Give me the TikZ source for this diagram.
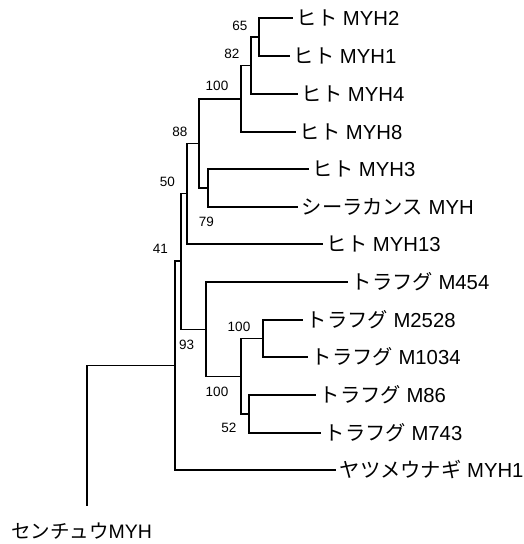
\documentclass[tikz,border=0pt]{standalone}
\usepackage{fontspec}
\setmainfont{Liberation Sans}
\newfontfamily\jp{Noto Sans CJK JP}
\newcommand{\J}[1]{{\jp #1}}
\begin{document}
\begin{tikzpicture}[x=1pt,y=-1pt,
  br/.style={line width=1.2pt, line cap=rect},
  leaf/.style={anchor=base west, inner sep=0pt, xshift=4.5pt, yshift=-7pt,
    font=\fontsize{20.3}{22}\selectfont},
  bs/.style={inner sep=0pt, font=\fontsize{13.5}{14}\selectfont}]
\useasboundingbox (0,0) rectangle (523,544);
% internal nodes
\coordinate (n65) at (259,37);
\coordinate (n82) at (251,65.5);
\coordinate (n100a) at (241,99);
\coordinate (n79) at (208,188);
\coordinate (n88) at (199,143.5);
\coordinate (n50) at (187,193.5);
\coordinate (n100b) at (263,338.5);
\coordinate (n52) at (249,414);
\coordinate (n100c) at (241,376.5);
\coordinate (n93) at (206,329.5);
\coordinate (n41) at (181,261);
\coordinate (root) at (175,365.5);
% leaf ends
\coordinate (l1) at (292,18);
\coordinate (l2) at (289,56);
\coordinate (l3) at (297,94);
\coordinate (l4) at (295,132);
\coordinate (l5) at (308,169);
\coordinate (l6) at (297,207);
\coordinate (l7) at (322,244);
\coordinate (l8) at (347,282);
\coordinate (l9) at (302,320);
\coordinate (l10) at (307,357);
\coordinate (l11) at (315,395);
\coordinate (l12) at (320,433);
\coordinate (l13) at (335,470);
\coordinate (l14) at (87,505);
% branches
\draw[br] (n65) |- (l1);
\draw[br] (n65) |- (l2);
\draw[br] (n82) |- (n65);
\draw[br] (n82) |- (l3);
\draw[br] (n100a) |- (n82);
\draw[br] (n100a) |- (l4);
\draw[br] (n88) |- (n100a);
\draw[br] (n79) |- (l5);
\draw[br] (n79) |- (l6);
\draw[br] (n88) |- (n79);
\draw[br] (n50) |- (n88);
\draw[br] (n50) |- (l7);
\draw[br] (n41) |- (n50);
\draw[br] (n100b) |- (l9);
\draw[br] (n100b) |- (l10);
\draw[br] (n52) |- (l11);
\draw[br] (n52) |- (l12);
\draw[br] (n100c) |- (n100b);
\draw[br] (n100c) |- (n52);
\draw[br] (n93) |- (l8);
\draw[br] (n93) |- (n100c);
\draw[br] (n41) |- (n93);
\draw[br] (root) |- (n41);
\draw[br] (root) |- (l13);
\draw[br] (root) -| (l14);
% leaf labels
\path (l1) node[leaf] (t1) {\J{ヒト} MYH2};
\path (l2) node[leaf] (t2) {\J{ヒト} MYH1};
\path (l3) node[leaf] (t3) {\J{ヒト} MYH4};
\path (l4) node[leaf] (t4) {\J{ヒト} MYH8};
\path (l5) node[leaf] (t5) {\J{ヒト} MYH3};
\path (l6) node[leaf] (t6) {\J{シーラカンス} MYH};
\path (l7) node[leaf] (t7) {\J{ヒト} MYH13};
\path (l8) node[leaf] (t8) {\J{トラフグ} M454};
\path (l9) node[leaf] (t9) {\J{トラフグ} M2528};
\path (l10) node[leaf] (t10) {\J{トラフグ} M1034};
\path (l11) node[leaf] (t11) {\J{トラフグ} M86};
\path (l12) node[leaf] (t12) {\J{トラフグ} M743};
\path (l13) node[leaf] (t13) {\J{ヤツメウナギ} MYH1};
\node[inner sep=0pt, anchor=base, font=\fontsize{19.5}{21}\selectfont] (t14) at (81.5,538) {\J{センチュウ}MYH};
% bootstrap values
\node[bs] (b65) at (240,26) {65};
\node[bs] (b82) at (232,54) {82};
\node[bs] (b100a) at (217,86) {100};
\node[bs] (b88) at (180,132) {88};
\node[bs] (b79) at (206.5,222) {79};
\node[bs] (b50) at (167.5,182) {50};
\node[bs] (b41) at (160.5,249) {41};
\node[bs] (b93) at (186.7,345) {93};
\node[bs] (b100b) at (239,326.7) {100};
\node[bs] (b100c) at (217,391.7) {100};
\node[bs] (b52) at (229,428) {52};
\end{tikzpicture}
\end{document}
